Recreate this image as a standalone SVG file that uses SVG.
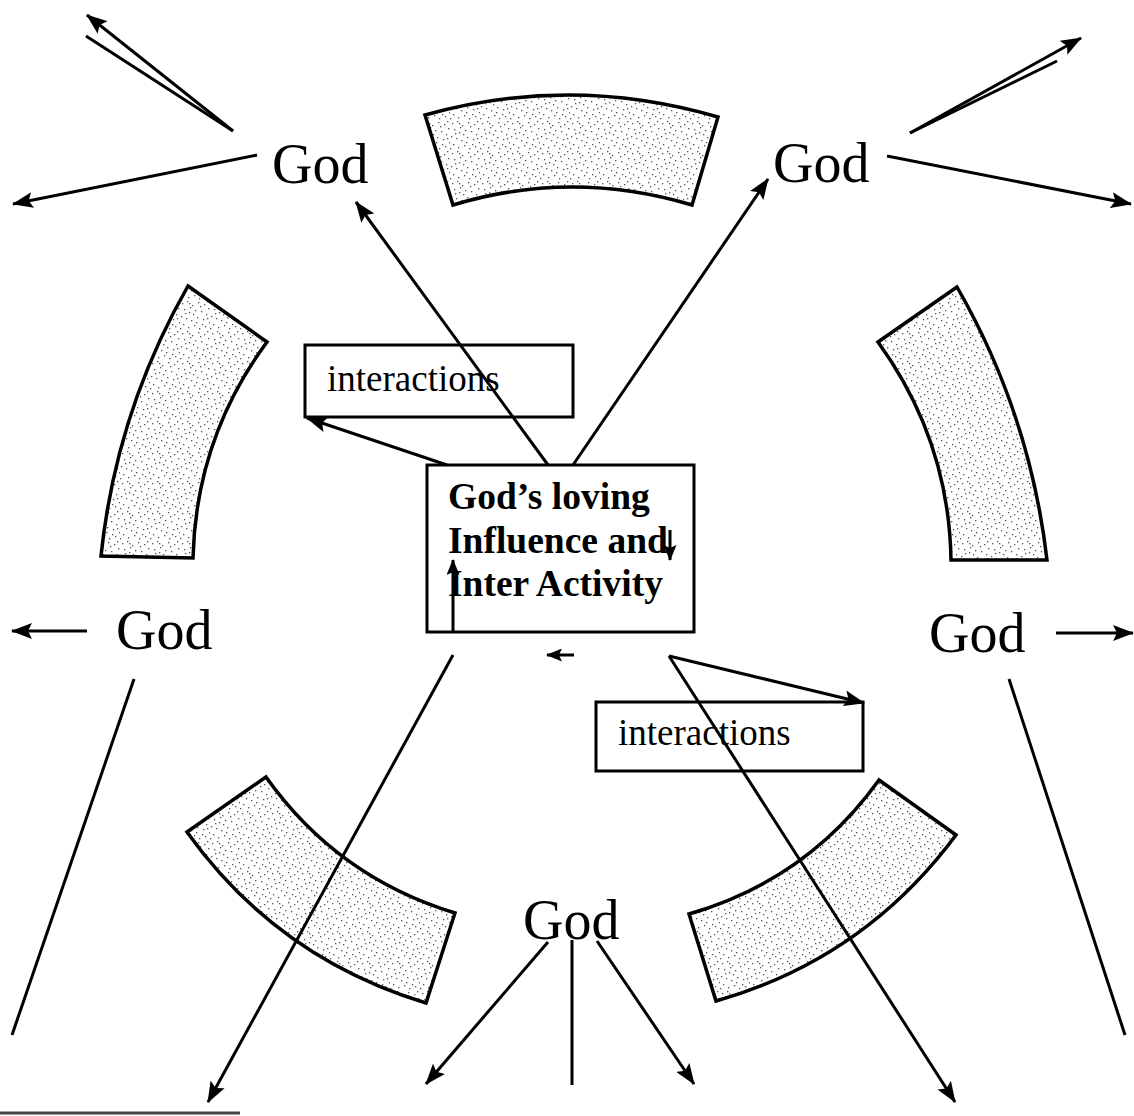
<svg xmlns="http://www.w3.org/2000/svg" width="1134" height="1116" viewBox="0 0 1134 1116">
  <style>
    .god { font-family: "Liberation Serif", "Times New Roman", serif; font-size: 56px; fill: #000; }
    .inter { font-family: "Liberation Serif", "Times New Roman", serif; font-size: 37px; fill: #000; }
    .bold { font-family: "Liberation Serif", "Times New Roman", serif; font-size: 37.5px; font-weight: bold; fill: #000; }
    .box { fill: #fff; stroke: #000; stroke-width: 3; }
    .arc { fill: url(#stipple); stroke: #000; stroke-width: 3.5; stroke-linejoin: miter; }
    .ln { fill: none; stroke: #000; stroke-width: 3; }
    .arr { fill: none; stroke: #000; stroke-width: 3; marker-end: url(#head); }
    .sarr { fill: none; stroke: #000; stroke-width: 3; marker-end: url(#shead); }
  </style>
  <defs>
    <marker id="head" markerUnits="userSpaceOnUse" markerWidth="22" markerHeight="16" viewBox="0 0 22 16" refX="20" refY="8" orient="auto">
      <path d="M0,0 L21,8 L0,16 L4,8 Z" fill="#000"/>
    </marker>
    <marker id="shead" markerUnits="userSpaceOnUse" markerWidth="16" markerHeight="13" viewBox="0 0 16 13" refX="15" refY="6.5" orient="auto">
      <path d="M0,0 L16,6.5 L0,13 L3,6.5 Z" fill="#000"/>
    </marker>
    <pattern id="stipple" patternUnits="userSpaceOnUse" width="30" height="30">
      <rect width="30" height="30" fill="#fff"/>
      <g fill="#555">
        <rect x="2" y="3" width="1.3" height="1.3"/><rect x="7" y="1" width="1.3" height="1.3"/>
        <rect x="12" y="5" width="1.3" height="1.3"/><rect x="18" y="2" width="1.3" height="1.3"/>
        <rect x="24" y="4" width="1.3" height="1.3"/><rect x="28" y="8" width="1.3" height="1.3"/>
        <rect x="4" y="9" width="1.3" height="1.3"/><rect x="9" y="12" width="1.3" height="1.3"/>
        <rect x="15" y="10" width="1.3" height="1.3"/><rect x="21" y="11" width="1.3" height="1.3"/>
        <rect x="26" y="14" width="1.3" height="1.3"/><rect x="1" y="16" width="1.3" height="1.3"/>
        <rect x="6" y="18" width="1.3" height="1.3"/><rect x="11" y="20" width="1.3" height="1.3"/>
        <rect x="17" y="17" width="1.3" height="1.3"/><rect x="23" y="19" width="1.3" height="1.3"/>
        <rect x="29" y="22" width="1.3" height="1.3"/><rect x="3" y="24" width="1.3" height="1.3"/>
        <rect x="8" y="27" width="1.3" height="1.3"/><rect x="14" y="25" width="1.3" height="1.3"/>
        <rect x="19" y="28" width="1.3" height="1.3"/><rect x="25" y="26" width="1.3" height="1.3"/>
        <rect x="13" y="14" width="1.3" height="1.3"/><rect x="20" y="6" width="1.3" height="1.3"/>
        <rect x="5" y="13" width="1.3" height="1.3"/><rect x="27" y="1" width="1.3" height="1.3"/>
        <rect x="10" y="7" width="1.3" height="1.3"/><rect x="16" y="22" width="1.3" height="1.3"/>
        <rect x="22" y="24" width="1.3" height="1.3"/><rect x="0" y="28" width="1.3" height="1.3"/>
        <rect x="27" y="18" width="1.3" height="1.3"/><rect x="9" y="3" width="1.3" height="1.3"/>
      </g>
    </pattern>
  </defs>

  <rect width="1134" height="1116" fill="#fff"/>

  <!-- Stippled ring segments -->
  <g id="arc-top"><path class="arc" d="M425,115 Q571,74 718,117 L692,205 Q572,169 453,205 Z"/></g>
  <g id="arc-left"><path class="arc" d="M188,286 L267,342 Q196,438 193,558 L101,556 Q116,412 188,286 Z"/></g>
  <g id="arc-right"><path class="arc" d="M957,287 L878,342 Q949,440 951,560 L1047,560 Q1030,414 957,287 Z"/></g>
  <g id="arc-bottom-left"><path class="arc" d="M266,777 Q337,877 455,913 L426,1003 Q277,958 187,832 Z"/></g>
  <g id="arc-bottom-right"><path class="arc" d="M879,780 Q807,880 689,914 L716,1001 Q864,959 956,835 Z"/></g>

  <!-- Boxes -->
  <g id="interactions-top">
    <rect class="box" x="305" y="345" width="268" height="72"/>
    <text class="inter" x="327" y="391">interactions</text>
  </g>
  <g id="interactions-bottom">
    <rect class="box" x="596" y="702" width="267" height="69"/>
    <text class="inter" x="618" y="745">interactions</text>
  </g>
  <g id="center">
    <rect class="box" x="427" y="465" width="267" height="167"/>
    <text class="bold" x="448" y="509">God’s loving</text>
    <text class="bold" x="448" y="553">Influence and</text>
    <text class="bold" x="448" y="596">Inter Activity</text>
  </g>

  <!-- God labels -->
  <g id="god-top-left"><text class="god" x="272" y="183">God</text></g>
  <g id="god-top-right"><text class="god" x="773" y="182">God</text></g>
  <g id="god-left"><text class="god" x="116" y="649">God</text></g>
  <g id="god-right"><text class="god" x="929" y="652">God</text></g>
  <g id="god-bottom"><text class="god" x="523" y="939">God</text></g>

  <!-- Connectors -->
  <g id="connectors">
    <line class="arr" x1="233" y1="131" x2="87" y2="15"/>
    <line class="ln" x1="233" y1="131" x2="86" y2="36"/>
    <line class="arr" x1="257" y1="155" x2="13" y2="204"/>
    <line class="arr" x1="910" y1="133" x2="1081" y2="38"/>
    <line class="ln" x1="910" y1="133" x2="1057" y2="61"/>
    <line class="arr" x1="887" y1="156" x2="1131" y2="204"/>
    <line class="arr" x1="548" y1="465" x2="356" y2="202"/>
    <line class="arr" x1="573" y1="465" x2="768" y2="179"/>
    <line class="arr" x1="447" y1="465" x2="307" y2="418"/>
    <line class="sarr" x1="453" y1="632" x2="453" y2="560"/>
    <line class="sarr" x1="670" y1="530" x2="670" y2="560"/>
    <line class="sarr" x1="574" y1="655" x2="547" y2="655"/>
    <line class="arr" x1="669" y1="656" x2="864" y2="703"/>
    <line class="arr" x1="669" y1="656" x2="955" y2="1102"/>
    <line class="arr" x1="453" y1="655" x2="208" y2="1102"/>
    <line class="arr" x1="87" y1="631" x2="12" y2="631"/>
    <line class="arr" x1="1056" y1="633" x2="1133" y2="633"/>
    <line class="ln" x1="134" y1="679" x2="12" y2="1035"/>
    <line class="ln" x1="1009" y1="679" x2="1125" y2="1035"/>
    <line class="arr" x1="548" y1="942" x2="426" y2="1084"/>
    <line class="ln" x1="572" y1="940" x2="572" y2="1085"/>
    <line class="arr" x1="597" y1="941" x2="694" y2="1084"/>
  </g>
  <line x1="0" y1="1113" x2="240" y2="1113" stroke="#444" stroke-width="3"/>
</svg>
